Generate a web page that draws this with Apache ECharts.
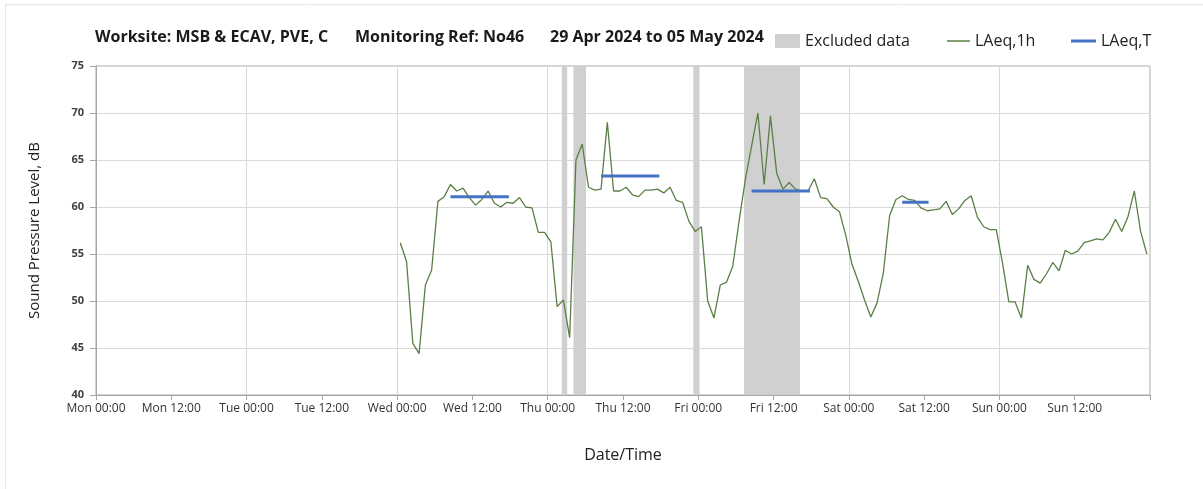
<!DOCTYPE html>
<html>
<head>
<meta charset="utf-8">
<script src="https://cdn.jsdelivr.net/npm/echarts@6/dist/echarts.min.js"></script>
<style>
html,body{margin:0;padding:0;background:#fff;}
#chart{width:1203px;height:489px;}
</style>
</head>
<body>
<div id="chart"></div>
<script>
// Hours from Mon 00:00 to Mon 00:00 (value axis, hours)
const xTickLabels = ['Mon 00:00','Mon 12:00','Tue 00:00','Tue 12:00','Wed 00:00','Wed 12:00','Thu 00:00','Thu 12:00','Fri 00:00','Fri 12:00','Sat 00:00','Sat 12:00','Sun 00:00','Sun 12:00'];
const firstHour = 48; // Wed 00:00, hourly values plotted at mid-hour
const wedValues = [56.2,54.2,45.5,44.4,51.7,53.3,60.6,61.1,62.4,61.7,62.0,61.0,60.2,60.8,61.7,60.4,60.0,60.5,60.4,61.0,60.0,59.9,57.3,57.3];
const thuValues = [56.3,49.4,50.1,46.1,65.0,66.7,62.1,61.8,61.9,69.0,61.7,61.7,62.1,61.3,61.1,61.8,61.8,61.9,61.5,62.1,60.7,60.5,58.5,57.4];
const friValues = [57.9,50.0,48.2,51.7,52.0,53.7,58.5,62.9,66.5,70.0,62.4,69.7,63.6,61.9,62.6,61.9,61.7,61.7,63.0,61.0,60.9,60.0,59.5,57.0];
const satValues = [53.9,52.1,50.1,48.3,49.8,53.0,59.1,60.8,61.2,60.8,60.7,59.9,59.6,59.7,59.8,60.6,59.2,59.8,60.7,61.2,58.9,57.9,57.6,57.6];
const sunValues = [54.0,49.9,49.9,48.2,53.8,52.3,51.9,52.9,54.1,53.2,55.4,55.0,55.3,56.2,56.4,56.6,56.5,57.3,58.7,57.4,59.0,61.7,57.4,55.0];
// LAeq,T periods [startHour, endHour, value]
const laeqT = [[56.5,65.8,61.1],[80.5,89.8,63.3],[104.5,113.8,61.7],[128.5,132.7,60.5]];
// Excluded data periods [startHour, endHour]
const excluded = [[74.25,75.1],[76.1,78.1],[95.2,96.2],[103.3,112.2]];

const allValues = [].concat(wedValues, thuValues, friValues, satValues, sunValues);
const laeq1h = allValues.map((v, i) => [firstHour + i + 0.5, v]);

const FONT = 'Open Sans';
const chart = echarts.init(document.getElementById('chart'));
const tSeries = laeqT.map((p, i) => ({
  name: 'LAeq,T', type: 'line', xAxisIndex: 0, yAxisIndex: 0,
  data: [[p[0], p[2]], [p[1], p[2]]],
  symbol: 'none', silent: true, z: 4,
  lineStyle: {color: '#4472c4', width: 3},
  itemStyle: {color: '#4472c4'}
}));
const titleStyle = {fontFamily: FONT, fontSize: 16, fontWeight: 'bold', color: '#1a1a1a'};
const legendText = {fontFamily: FONT, fontSize: 16, color: '#222'};

chart.setOption({
  animation: false,
  backgroundColor: '#fff',
  graphic: [
    {type: 'line', shape: {x1: 5.5, y1: 4, x2: 5.5, y2: 489}, style: {stroke: '#e6e6e6', lineWidth: 1}},
    {type: 'line', shape: {x1: 5, y1: 4.5, x2: 1203, y2: 4.5}, style: {stroke: '#e6e6e6', lineWidth: 1}}
  ],
  title: [
    {text: 'Worksite: MSB & ECAV, PVE, C', left: 90, top: 24, textStyle: titleStyle},
    {text: 'Monitoring Ref: No46', left: 350, top: 24, textStyle: titleStyle},
    {text: '29 Apr 2024 to 05 May 2024', left: 545, top: 24, textStyle: titleStyle}
  ],
  legend: [
    {data: ['Excluded data'], left: 775, top: 33, padding: 0, icon: 'rect', itemWidth: 25, itemHeight: 14, itemGap: 4,
     textStyle: legendText},
    {data: ['LAeq,1h'], left: 947, top: 33, padding: 0, icon: 'rect', itemWidth: 23, itemHeight: 1.5,
     textStyle: legendText},
    {data: ['LAeq,T'], left: 1071, top: 33, padding: 0, icon: 'rect', itemWidth: 25, itemHeight: 3,
     textStyle: legendText}
  ],
  grid: {left: 96, right: 53, top: 66, bottom: 94, show: true, borderColor: '#a6a6a6', borderWidth: 1},
  xAxis: [
    {type: 'value', min: 0, max: 168, interval: 12,
     name: 'Date/Time', nameLocation: 'middle', nameGap: 52,
     nameTextStyle: {fontFamily: FONT, fontSize: 16, color: '#222'},
     axisLine: {show: true, lineStyle: {color: '#a6a6a6'}},
     axisTick: {show: true, length: 5, lineStyle: {color: '#a6a6a6'}},
     axisLabel: {fontFamily: FONT, fontSize: 12, color: '#333', margin: 8, showMaxLabel: true,
       formatter: v => { const i = Math.round(v / 12); return i < xTickLabels.length ? xTickLabels[i] : ''; }},
     splitLine: {show: false}},
    {type: 'value', min: 0, max: 168, interval: 24, position: 'bottom',
     axisLine: {show: false}, axisTick: {show: false}, axisLabel: {show: false},
     splitLine: {show: true, lineStyle: {color: '#d9d9d9', width: 1}}}
  ],
  yAxis: {
    type: 'value', min: 40, max: 75, interval: 5,
    name: 'Sound Pressure Level, dB', nameLocation: 'middle', nameGap: 54, nameRotate: 90,
    nameTextStyle: {fontFamily: FONT, fontSize: 15, color: '#222'},
    axisLine: {show: true, lineStyle: {color: '#a6a6a6'}},
    axisTick: {show: true, length: 6, lineStyle: {color: '#a6a6a6'}},
    axisLabel: {fontFamily: FONT, fontSize: 11, fontWeight: 'bold', color: '#404040', margin: 12},
    splitLine: {show: true, lineStyle: {color: '#d9d9d9', width: 1}}
  },
  series: [
    {name: 'Excluded data', type: 'line', data: [], symbol: 'none', z: 1,
     itemStyle: {color: '#d0d0d0'}, lineStyle: {color: '#d0d0d0'},
     markArea: {silent: true, itemStyle: {color: '#d0d0d0', opacity: 1},
       data: excluded.map(e => [{xAxis: e[0]}, {xAxis: e[1]}])}},
    {name: 'LAeq,1h', type: 'line', data: laeq1h, symbol: 'none', z: 3,
     lineStyle: {color: '#5a7f45', width: 1.3}, itemStyle: {color: '#5a7f45'}}
  ].concat(tSeries)
});
</script>
</body>
</html>
